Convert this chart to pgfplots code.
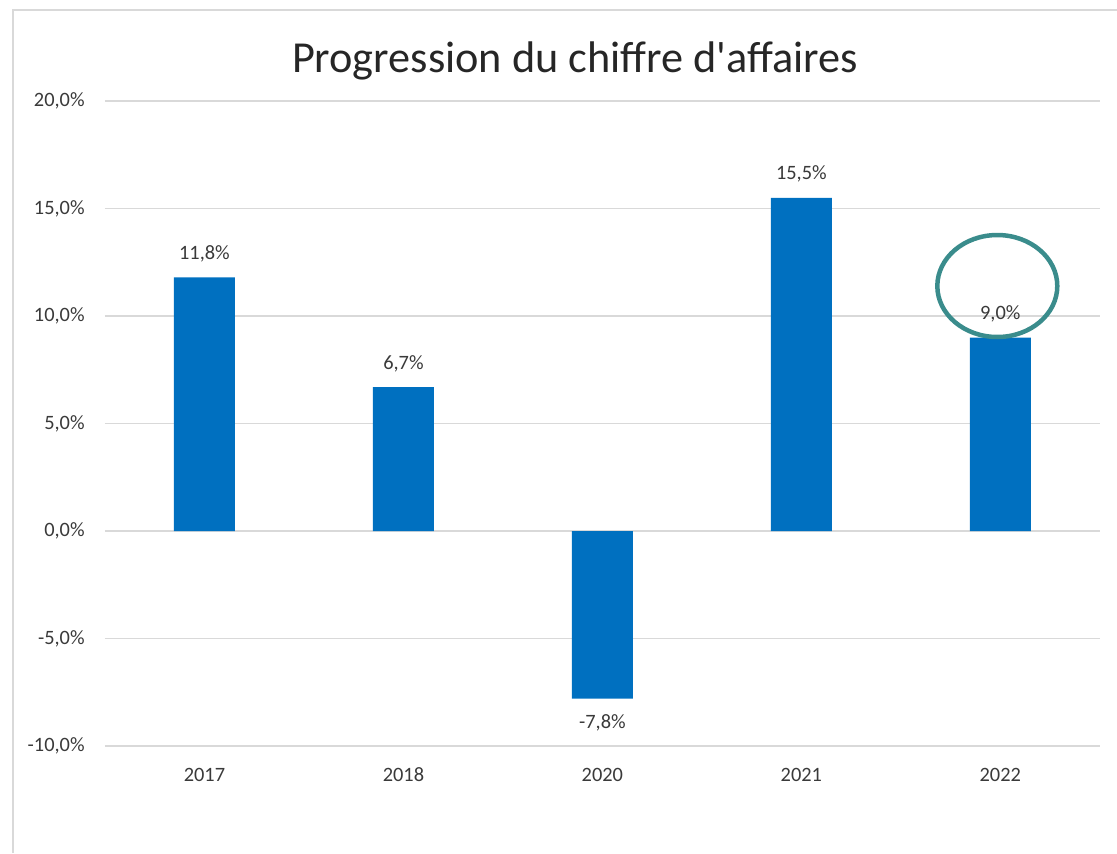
\documentclass[border=0pt]{standalone}
\usepackage{pgfplots}
\pgfplotsset{compat=1.18}
\usepackage{fontspec}
\setmainfont{Carlito}
\newfontfamily\titlefont{Carlito}
\definecolor{barblue}{HTML}{0070C0}
\definecolor{gridgray}{HTML}{D9D9D9}
\definecolor{txtgray}{HTML}{3A3A3A}
\definecolor{tealring}{HTML}{3A8C8C}
\begin{document}
\begin{tikzpicture}[x=0.02cm,y=0.02cm]
\useasboundingbox (0,0) rectangle (1117,853);
\draw[gridgray, line width=0.04cm] (13,0) -- (13,843) -- (1117,843);
\node[font=\titlefont\fontsize{25.2}{28}\selectfont, text=black!85] at (575,792) {Progression du chiffre d'affaires};
\begin{axis}[
  at={(2.1cm,2.14cm)}, anchor=south west,
  scale only axis, width=19.9cm, height=12.9cm,
  xmin=-0.5, xmax=4.5, ymin=-10, ymax=20,
  clip=false,
  axis line style={draw=none},
  ymajorgrids, grid style={gridgray, line width=0.03cm},
  major tick length=0pt,
  xtick={0,1,2,3,4},
  xticklabels={2017,2018,2020,2021,2022},
  ytick={-10,-5,0,5,10,15,20},
  /pgf/number format/assume math mode=true,
  yticklabel={\pgfmathprintnumber[fixed,fixed zerofill,precision=1,use comma]{\tick}\%},
  ticklabel style={font=\fontsize{11.6}{13}\selectfont, text=txtgray},
  yticklabel style={anchor=east, inner sep=0pt, xshift=-0.4cm},
  xticklabel style={anchor=north, inner sep=0pt, text height=0.64em, text depth=0pt, yshift=-0.48cm},
  ybar, bar width=1.22cm,
  nodes near coords={\pgfmathprintnumber[fixed,fixed zerofill,precision=1,use comma]{\pgfplotspointmeta}\%},
  nodes near coords style={font=\fontsize{11.6}{13}\selectfont, text=txtgray, inner xsep=0pt, inner ysep=0.3cm},
]
\addplot[fill=barblue, draw=none] coordinates {(0,11.8) (1,6.7) (2,-7.8) (3,15.5) (4,9.0)};
\draw[tealring, line width=0.09cm] (axis cs:3.985,11.4) ellipse [x radius=1.2cm, y radius=1.02cm];
\end{axis}
\end{tikzpicture}
\end{document}
